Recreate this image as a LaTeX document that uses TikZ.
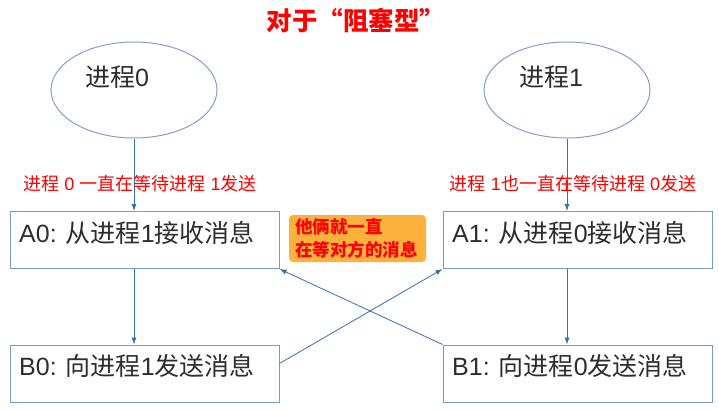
\documentclass[tikz,border=0pt]{standalone}
\usepackage{fontspec}
\setmainfont{Noto Sans CJK SC}
\newfontfamily\latf{Liberation Sans}
\newcommand{\lt}[1]{{\latf #1}}
\usetikzlibrary{shapes.geometric,arrows.meta}
\definecolor{linec}{RGB}{55,110,180}
\definecolor{boxc}{RGB}{115,155,200}
\definecolor{ellc}{RGB}{130,160,200}
\definecolor{txtc}{RGB}{45,45,45}
\definecolor{orangec}{RGB}{251,178,60}
\begin{document}
\begin{tikzpicture}[x=1pt,y=-1pt,
  stepbox/.style={draw=boxc,line width=1pt,rectangle,minimum width=269pt,minimum height=57pt,inner sep=0pt},
  proc/.style={draw=ellc,line width=1pt,ellipse,minimum width=166pt,minimum height=96pt,inner sep=0pt},
  boxtxt/.style={anchor=west,text=txtc,font=\fontsize{25}{29}\selectfont,inner sep=0pt},
  redtxt/.style={text=red,font=\fontsize{18}{21}\selectfont,inner sep=0pt},
  arr/.style={draw=linec,line width=0.8pt,-{Latex[length=7pt,width=5pt]}}
]
\useasboundingbox (0,0) rectangle (719,410);
\fill[white] (0,0) rectangle (719,410);

\node[text=red,font=\fontsize{25.5}{30}\selectfont\bfseries,inner sep=0pt] (title) at (356,21) {对于“阻塞型”};

\node[proc] (e0) at (134,90) {};
\node[proc] (e1) at (567,90) {};
\node[boxtxt] (t0) at (85,77) {进程\lt{0}};
\node[boxtxt] (t1) at (519,77) {进程\lt{1}};

\node[stepbox] (a0) at (144.5,240) {};
\node[stepbox] (a1) at (577.5,240) {};
\node[stepbox] (b0) at (144.5,373.5) {};
\node[stepbox] (b1) at (577.5,373.5) {};

\node[boxtxt] (ta0) at (19,233) {\lt{A0: }从进程\lt{1}接收消息};
\node[boxtxt] (ta1) at (452,233) {\lt{A1: }从进程\lt{0}接收消息};
\node[boxtxt] (tb0) at (19,366) {\lt{B0: }向进程\lt{1}发送消息};
\node[boxtxt] (tb1) at (452,366) {\lt{B1: }向进程\lt{0}发送消息};

\draw[arr] (e0.south) -- (e0.south |- a0.north);
\draw[arr] (e1.south) -- (e1.south |- a1.north);
\draw[arr] (e0.south |- a0.south) -- (e0.south |- b0.north);
\draw[arr] (e1.south |- a1.south) -- (e1.south |- b1.north);
\draw[arr] ([yshift=10pt]b0.east) -- (a1.south west);
\draw[arr] (b1.north west) -- (a0.south east);

\node[redtxt] (r0) at (140,184) {进程\lt{ 0 }一直在等待进程\lt{ 1}发送};
\node[redtxt] (r1) at (573,184) {进程\lt{ 1}也一直在等待进程\lt{ 0}发送};

\node[fill=orangec,rounded corners=4pt,minimum width=137pt,minimum height=47pt,inner sep=0pt] (ob) at (357.5,238.5) {};
\node[anchor=west,align=left,text=red,font=\fontsize{17.5}{23}\selectfont\bfseries,inner sep=0pt] (ot) at (295,238.5) {他俩就一直\\在等对方的消息};
\end{tikzpicture}
\end{document}
